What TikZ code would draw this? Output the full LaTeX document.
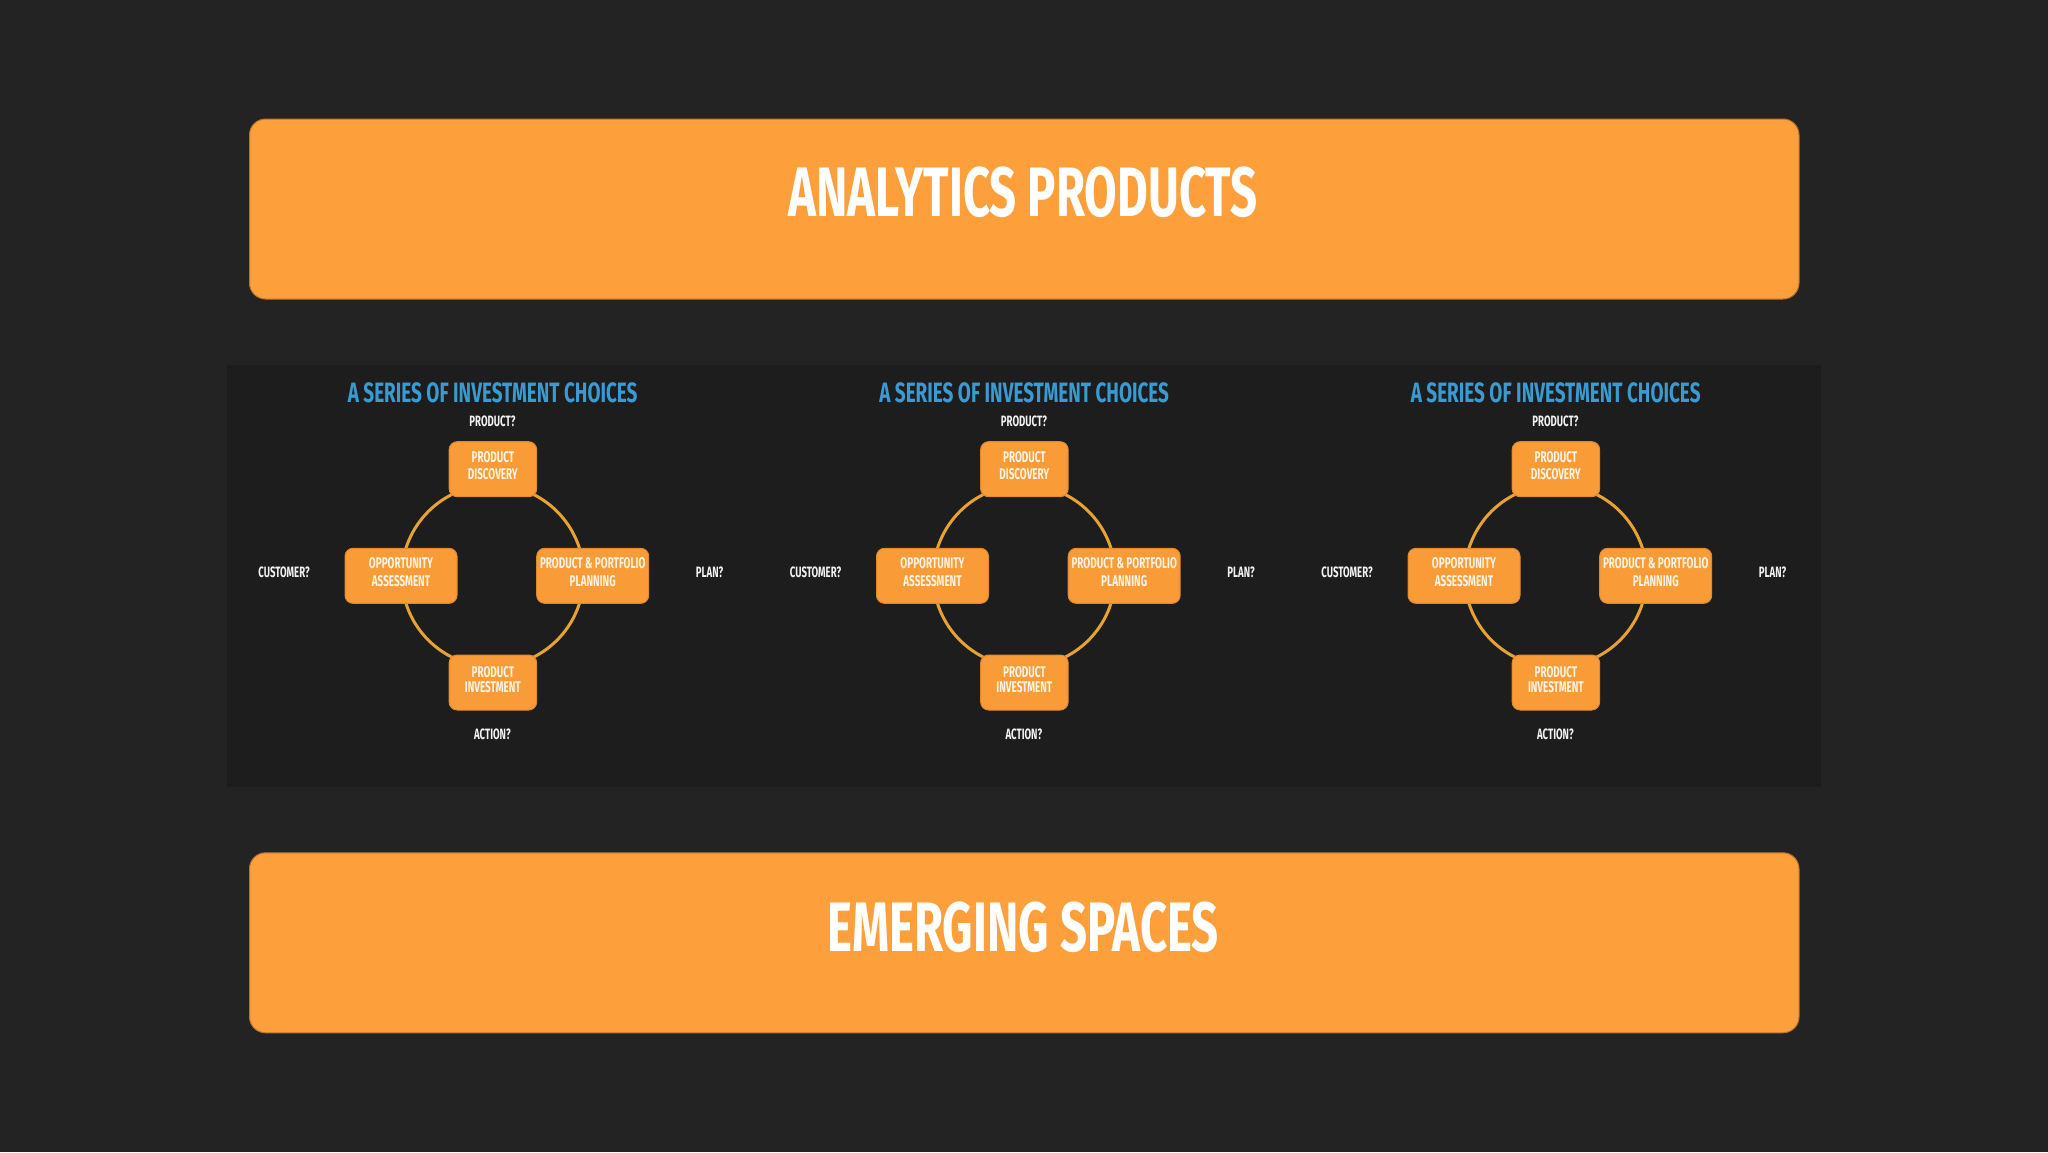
\documentclass[tikz,border=0pt]{standalone}
\usepackage{fontspec}
\setmainfont{Fira Sans}[FakeStretch=0.64]
\newfontfamily\headfont{Fira Sans}[FakeStretch=0.675]
\definecolor{bgc}{HTML}{232323}
\definecolor{panelc}{HTML}{1D1D1D}
\definecolor{bannerc}{HTML}{FD9F3A}
\definecolor{bannerline}{HTML}{B8732A}
\definecolor{boxc}{HTML}{F99C38}
\definecolor{boxline}{HTML}{E08A30}
\definecolor{boxtextc}{HTML}{FFF4E4}
\definecolor{ringc}{HTML}{E6A232}
\definecolor{bluec}{HTML}{3A9AD2}
\definecolor{qc}{HTML}{F2F2F2}
\tikzset{
  banner/.style={fill=bannerc, draw=bannerline, line width=1pt, rounded corners=16pt, minimum width=1549.5pt, minimum height=180pt, inner sep=0pt},
  bigtext/.style={text=white, font=\headfont\fontsize{70}{84}\selectfont\bfseries, inner sep=0pt},
  stagebox/.style={fill=boxc, draw=boxline, line width=1pt, rounded corners=8pt, minimum height=55pt, inner sep=0pt},
  boxtext/.style={text=boxtextc, font=\fontsize{15.5}{17.5}\selectfont\bfseries, align=center, inner sep=0pt},
  boxtextb/.style={text=boxtextc, font=\fontsize{15.5}{15}\selectfont\bfseries, align=center, inner sep=0pt},
  qtext/.style={text=qc, font=\fontsize{15}{18}\selectfont\bfseries, inner sep=0pt},
  seriestitle/.style={text=bluec, font=\headfont\fontsize{28}{34}\selectfont\bfseries, inner sep=0pt},
  ring/.style={draw=ringc, line width=3pt},
}
\begin{document}
\begin{tikzpicture}[x=1pt,y=-1pt]
\useasboundingbox (0,0) rectangle (2048,1152);
\fill[bgc] (0,0) rectangle (2048,1152);
\fill[panelc] (226.5,364.5) rectangle (1821,786.5);
\node[banner] (top) at (1024.25,209) {};
\node[bigtext] (toptext) at (1023,192.5) {ANALYTICS PRODUCTS};
\node[banner] (bottom) at (1024.25,942.8) {};
\node[bigtext] (bottomtext) at (1023,927) {EMERGING SPACES};
\foreach \k in {0,1,2}{
\begin{scope}[xshift=\k*531.5pt]
  \node[seriestitle] (title\k) at (492.7,393) {A SERIES OF INVESTMENT CHOICES};
  \coordinate (c\k) at (492.7,575.8);
  \draw[ring] (c\k) circle[radius=91pt];
  \node[stagebox, minimum width=87.5pt] (pd\k) at (492.9,469.2) {};
  \node[boxtext] (pdt\k) at ([yshift=3.5pt]pd\k.center) {PRODUCT\\DISCOVERY};
  \node[stagebox, minimum width=112pt] (oa\k) at (401,575.8) {};
  \node[boxtext] (oat\k) at ([yshift=3.5pt]oa\k.center) {OPPORTUNITY\\ASSESSMENT};
  \node[stagebox, minimum width=112pt] (pp\k) at (592.7,575.8) {};
  \node[boxtext] (ppt\k) at ([yshift=3.5pt]pp\k.center) {PRODUCT \& PORTFOLIO\\PLANNING};
  \node[stagebox, minimum width=87.5pt] (pi\k) at (492.9,682.5) {};
  \node[boxtextb] (pit\k) at ([yshift=3pt]pi\k.center) {PRODUCT\\INVESTMENT};
  \node[qtext] (qp\k) at (492.4,421) {PRODUCT?};
  \node[qtext] (qc\k) at (284,572.5) {CUSTOMER?};
  \node[qtext] (ql\k) at (709.6,572.5) {PLAN?};
  \node[qtext] (qa\k) at (492.4,734) {ACTION?};
\end{scope}
}
\end{tikzpicture}
\end{document}
